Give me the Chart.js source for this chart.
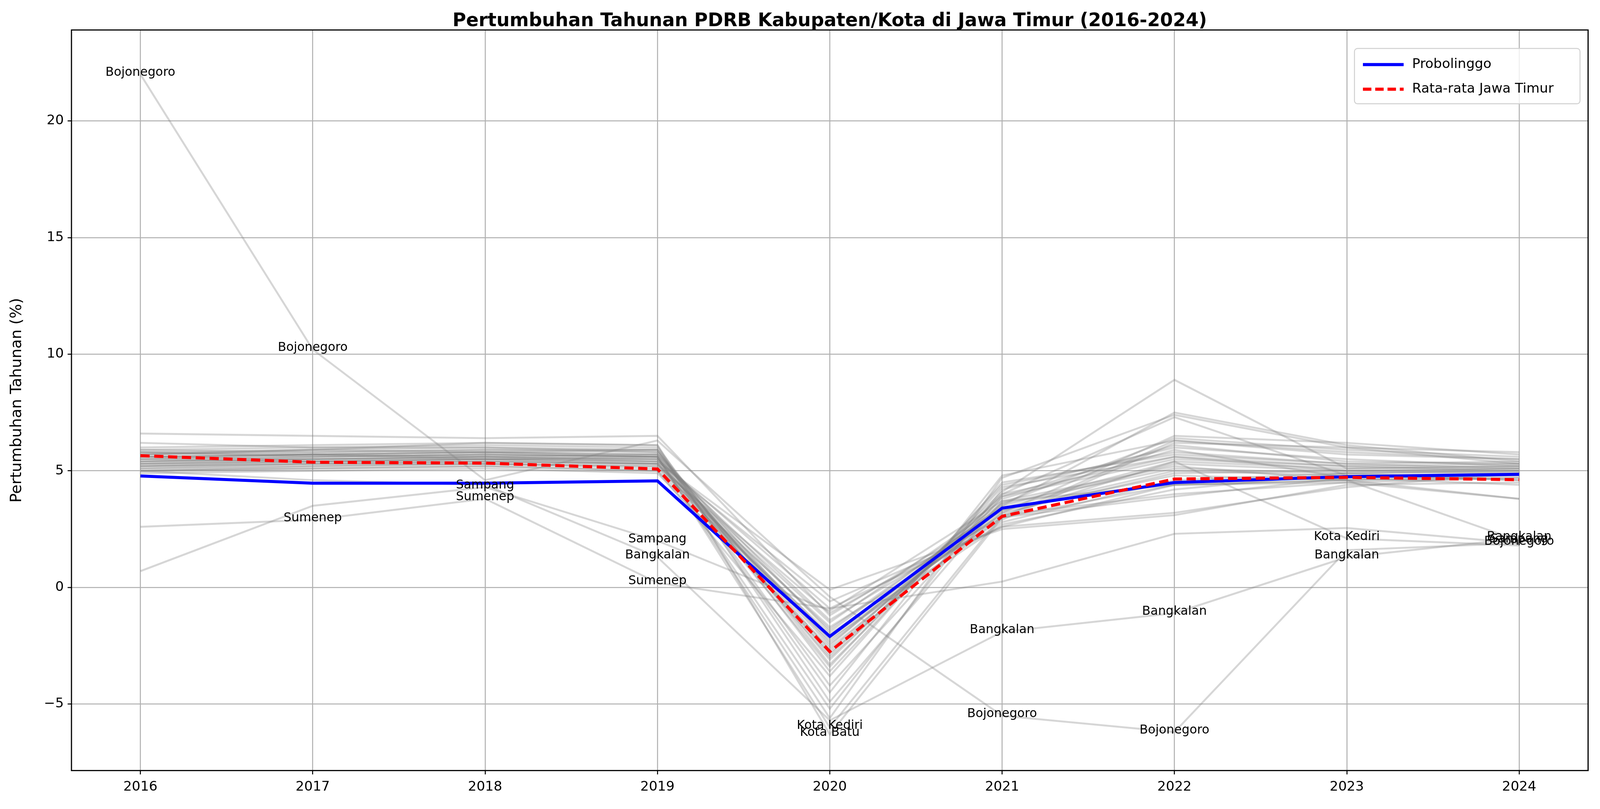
<!DOCTYPE html>
<html>
<head>
<meta charset="utf-8">
<script src="https://cdn.jsdelivr.net/npm/chart.js@4.4.1/dist/chart.umd.min.js"></script>
<style>
  html, body { margin: 0; padding: 0; overflow: hidden; background: #fff; }
  #wrap { position: fixed; left: 0; top: 0; width: 100vw; height: 100vh; }
  canvas { display: block; }
</style>
</head>
<body>
<div id="wrap"><canvas id="canvas"></canvas></div>
<script>
var years = [2016, 2017, 2018, 2019, 2020, 2021, 2022, 2023, 2024];

var probolinggo = [4.78, 4.47, 4.47, 4.57, -2.1, 3.4, 4.5, 4.75, 4.85];
var rataRata = [5.65, 5.37, 5.33, 5.08, -2.75, 3.05, 4.65, 4.72, 4.62];

// the other regencies / cities (grey lines)
var namedRegions = {
  "Bojonegoro": [22.0, 10.2, 4.6, 6.3, -0.4, -5.5, -6.2, 1.6, 1.9],
  "Sampang": [0.7, 3.5, 4.3, 2.0, -1.0, 3.7, 4.4, 4.6, 2.0],
  "Sumenep": [2.6, 2.9, 3.8, 0.2, -0.9, 0.25, 2.3, 2.55, 1.9],
  "Bangkalan": [5.0, 4.6, 4.4, 1.3, -5.7, -1.9, -1.1, 1.3, 2.1],
  "Kota Kediri": [5.6, 5.7, 5.5, 5.6, -6.0, 3.1, 5.4, 2.1, 1.8],
  "Kota Batu": [5.7, 5.9, 6.2, 6.1, -6.3, 3.0, 6.3, 5.8, 5.5]
};
var otherRegions = [
  [5.2,5.3,5.4,5.3,-1.5,3.6,5.1,4.9,5.0],
  [5.5,5.6,5.7,5.6,-2.5,3.9,5.5,5.2,5.3],
  [6.6,6.5,6.4,6.5,-1.2,3.3,4.8,4.6,4.8],
  [6.2,6.0,6.1,6.0,-3.6,4.3,5.6,5.0,5.1],
  [5.0,5.1,5.2,5.0,-2.0,3.0,4.4,4.6,4.7],
  [5.3,5.4,5.5,5.5,-0.9,2.6,3.2,4.3,4.9],
  [5.8,5.9,6.0,5.8,-2.9,4.1,8.9,5.1,5.2],
  [5.6,5.7,5.8,5.7,-1.9,3.5,7.5,6.1,5.4],
  [5.9,6.0,6.0,5.9,-3.3,4.0,7.3,4.8,4.6],
  [5.4,5.5,5.6,5.4,-2.3,3.2,6.5,6.2,5.7],
  [5.1,5.2,5.3,5.1,-1.7,2.9,6.2,6.0,5.8],
  [5.7,5.8,5.9,5.9,-4.5,4.8,6.3,5.7,5.5],
  [5.5,5.4,5.5,5.4,-0.1,2.5,3.1,4.4,4.5],
  [4.9,5.0,5.1,4.9,-2.6,3.4,5.3,5.0,4.9],
  [5.6,5.7,5.6,5.5,-3.0,3.8,5.9,4.7,4.4],
  [5.3,5.5,5.6,5.5,-1.4,3.1,4.0,4.5,4.7],
  [5.8,5.6,5.7,5.6,-5.2,4.2,6.0,5.5,5.2],
  [6.0,6.1,6.2,6.1,-4.9,3.7,5.2,4.6,3.8],
  [5.2,5.3,5.3,5.2,-2.2,2.7,4.2,4.9,5.0],
  [5.4,5.6,5.7,5.6,-3.4,4.4,5.8,5.3,5.1],
  [5.7,5.9,5.8,5.7,-2.7,3.6,6.4,5.9,5.6],
  [5.0,5.2,5.3,5.2,-1.1,3.0,3.9,4.7,4.8],
  [5.5,5.7,5.8,5.6,-5.6,4.7,7.4,6.0,5.3],
  [5.9,5.8,5.9,5.8,-2.4,3.3,5.0,4.8,4.9],
  [5.3,5.4,5.4,5.3,-1.8,3.5,5.4,5.1,5.2],
  [5.6,5.5,5.6,5.7,-3.1,4.0,5.6,5.2,5.0],
  [5.1,5.3,5.4,5.3,-2.1,2.8,4.6,4.9,4.6],
  [5.8,5.7,5.8,5.9,-4.2,3.9,6.1,5.4,5.3],
  [5.4,5.5,5.5,5.4,-0.6,2.6,4.4,4.5,3.8],
  [5.2,5.4,5.5,5.3,-2.8,3.2,4.9,5.0,5.1],
  [5.0,5.1,5.2,5.0,-3.8,4.5,5.7,5.3,5.4]
];

// which regions get a name label at which year
var labelNames = ["Bojonegoro","Bojonegoro","Sumenep","Sampang","Sumenep","Sampang","Bangkalan","Sumenep",
  "Kota Kediri","Kota Batu","Bangkalan","Bojonegoro","Bangkalan","Bojonegoro","Kota Kediri","Bangkalan",
  "Bangkalan","Sampang","Bojonegoro"];
var labelYears = [2016,2017,2017,2018,2018,2019,2019,2019,2020,2020,2021,2021,2022,2022,2023,2023,2024,2024,2024];

var yTicks = [-5, 0, 5, 10, 15, 20];

// everything sized for a 4164px wide page, scaled to the real window
var s = window.innerWidth / 4164;
function px(v) { return v * s; }

function toPoints(arr) {
  return years.map(function(y, i) { return {x: y, y: arr[i]}; });
}

var datasets = [];
datasets.push({
  label: "Rata-rata Jawa Timur", data: toPoints(rataRata), borderColor: "#ff0000",
  borderWidth: px(8), borderDash: [px(24), px(12)], order: 0
});
datasets.push({
  label: "Probolinggo", data: toPoints(probolinggo), borderColor: "#0000ff",
  borderWidth: px(8), order: 1
});
var greys = otherRegions.slice();
for (var n in namedRegions) greys.push(namedRegions[n]);
greys.forEach(function(g) {
  datasets.push({ label: "", data: toPoints(g), borderColor: "rgba(128,128,128,0.32)", borderWidth: px(5), order: 2 });
});

var FONT = "'DejaVu Sans', sans-serif";

var extras = {
  id: "extras",
  afterDatasetsDraw: function(chart) {
    var ctx = chart.ctx, xs = chart.scales.x, ys = chart.scales.y, a = chart.chartArea;
    ctx.save();
    // annotations
    ctx.fillStyle = "#000";
    ctx.font = px(32) + "px " + FONT;
    ctx.textAlign = "center";
    ctx.textBaseline = "alphabetic";
    for (var i = 0; i < labelNames.length; i++) {
      var v = namedRegions[labelNames[i]][years.indexOf(labelYears[i])];
      ctx.fillText(labelNames[i], xs.getPixelForValue(labelYears[i]), ys.getPixelForValue(v) + px(4));
    }
    // frame
    ctx.strokeStyle = "#000";
    ctx.lineWidth = px(3);
    ctx.strokeRect(a.left, a.top, a.right - a.left, a.bottom - a.top);
    // title
    ctx.font = "bold " + px(48) + "px " + FONT;
    ctx.fillText("Pertumbuhan Tahunan PDRB Kabupaten/Kota di Jawa Timur (2016-2024)", (a.left + a.right) / 2, px(68));
    // legend
    var bx = a.right - px(608), by = a.top + px(48), bw = px(587), bh = px(144);
    ctx.fillStyle = "rgba(255,255,255,0.8)";
    ctx.strokeStyle = "#d0d0d0";
    ctx.lineWidth = px(2.5);
    ctx.beginPath();
    ctx.roundRect(bx, by, bw, bh, px(8));
    ctx.fill(); ctx.stroke();
    var items = [["Probolinggo", "#0000ff", []], ["Rata-rata Jawa Timur", "#ff0000", [px(22), px(10)]]];
    ctx.font = px(35) + "px " + FONT;
    ctx.textAlign = "left";
    ctx.textBaseline = "middle";
    items.forEach(function(it, k) {
      var yy = by + px(42) + k * px(64);
      ctx.strokeStyle = it[1];
      ctx.lineWidth = px(8);
      ctx.setLineDash(it[2]);
      ctx.beginPath(); ctx.moveTo(bx + px(22), yy); ctx.lineTo(bx + px(128), yy); ctx.stroke();
      ctx.setLineDash([]);
      ctx.fillStyle = "#000";
      ctx.fillText(it[0], bx + px(150), yy);
    });
    ctx.restore();
  }
};

new Chart(document.getElementById("canvas").getContext("2d"), {
  type: "line",
  data: { datasets: datasets },
  options: {
    responsive: true,
    maintainAspectRatio: false,
    animation: false,
    layout: { padding: { top: px(78), right: px(31), left: 0, bottom: 0 } },
    elements: { point: { radius: 0 }, line: { tension: 0 } },
    plugins: { legend: { display: false }, tooltip: { enabled: false } },
    scales: {
      x: {
        type: "linear", min: 2015.6, max: 2024.4,
        afterBuildTicks: function(sc) { sc.ticks = years.map(function(v) { return {value: v}; }); },
        afterFit: function(sc) { sc.height = px(100); },
        ticks: { color: "#000", font: { size: px(35), family: FONT }, padding: px(12),
          callback: function(v) { return String(v); } },
        grid: { color: "#b0b0b0", lineWidth: px(2.6), tickLength: px(10), tickColor: "#000" },
        border: { display: false }
      },
      y: {
        min: -7.85, max: 23.9,
        afterBuildTicks: function(sc) { sc.ticks = yTicks.map(function(v) { return {value: v}; }); },
        afterFit: function(sc) { sc.width = px(186); },
        ticks: { color: "#000", font: { size: px(35), family: FONT }, padding: px(10),
          callback: function(v) { return v < 0 ? "\u2212" + Math.abs(v) : String(v); } },
        title: { display: true, text: "Pertumbuhan Tahunan (%)", color: "#000",
          font: { size: px(40), family: FONT }, padding: { top: px(20), bottom: px(10) } },
        grid: { color: "#b0b0b0", lineWidth: px(2.6), tickLength: px(10), tickColor: "#000" },
        border: { display: false }
      }
    }
  },
  plugins: [extras]
});
</script>
</body>
</html>
